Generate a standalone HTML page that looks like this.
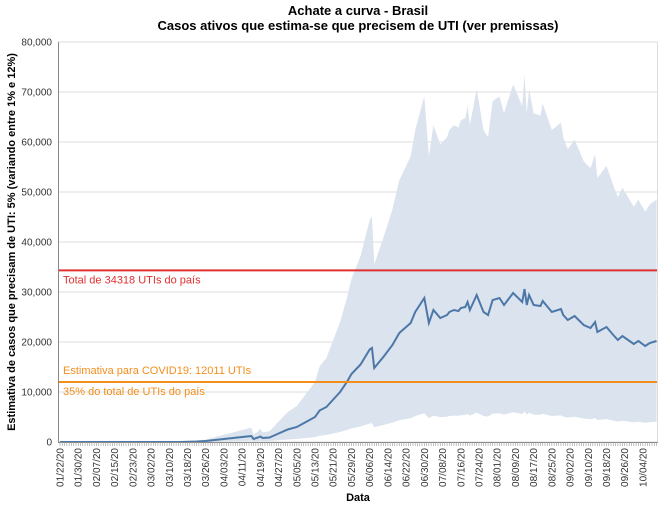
<!DOCTYPE html>
<html><head><meta charset="utf-8">
<style>
body{margin:0;background:#fff;}
svg{font-family:"Liberation Sans",sans-serif;display:block}
</style></head>
<body>
<svg id="c" width="665" height="508">
<text x="358" y="15" text-anchor="middle" font-size="13" font-weight="bold">Achate a curva - Brasil</text>
<text x="358" y="30" text-anchor="middle" font-size="13" font-weight="bold">Casos ativos que estima-se que precisem de UTI (ver premissas)</text>
<text transform="translate(15,242) rotate(-90)" text-anchor="middle" font-size="11" font-weight="bold">Estimativa de casos que precisam de UTI: 5% (variando entre 1% e 12%)</text>
<text x="358" y="501" text-anchor="middle" font-size="11" font-weight="bold">Data</text>
<g id="grid"></g><g id="marks"></g><g id="axes"></g>
</svg>
<script>
const yTicks=[0,10000,20000,30000,40000,50000,60000,70000,80000];
const days=[0,53,60,64,72,78,82,84,85,87,88,89,92,96,100,104,108,112,114,117,120,123,126,128,132,136,137,138,142,146,149,154,156,160,162,164,167,170,171,173,175,176,178,179,180,183,186,188,190,193,195,199,203,204,205,206,208,211,212,216,220,221,223,226,230,233,235,236,240,243,245,247,252,254,257,259,262];
const values=[0,0,100,200,600,900,1100,1200,600,900,1100,800,900,1700,2500,3000,4000,5000,6300,7000,8500,10000,12000,13600,15500,18500,18800,14800,17000,19400,21800,23800,26000,28800,23800,26400,24800,25400,26000,26400,26200,26800,27000,28000,26400,29400,26000,25400,28400,28800,27400,29800,28000,30600,27400,29400,27400,27200,28200,26000,26600,25400,24400,25200,23400,22800,24000,22000,23000,21400,20400,21200,19600,20200,19200,19800,20200];
const lowRatio=0.2, highRatio=2.4;
const totalUTI=34318, covidUTI=12011;
const startDate=new Date(2020,0,22);
const ns="http://www.w3.org/2000/svg";
const X0=60,PX=2.277,Y0=442,YT=42,YMAX=80000;
const xs=d=>X0+d*PX, ys=v=>Y0-(v/YMAX)*(Y0-YT);
function mk(t,a,p){const e=document.createElementNS(ns,t);for(const k in a)e.setAttribute(k,a[k]);p.appendChild(e);return e;}
const grid=document.getElementById('grid'),marks=document.getElementById('marks'),axes=document.getElementById('axes');
yTicks.forEach(v=>{
 const l=mk('line',{x1:58,x2:658,y1:ys(v),y2:ys(v),stroke:'#ddd','stroke-width':1},grid);
 
 
 const t=mk('text',{x:52,y:ys(v)+3.5,'text-anchor':'end','font-size':10,fill:'#333'},axes);
 t.textContent=v.toLocaleString('en-US');
 
 
});
let up='',lo='';
days.forEach((d,i)=>{up+=(i?'L':'M')+xs(d)+','+ys(values[i]*highRatio);});
for(let i=days.length-1;i>=0;i--){lo+='L'+xs(days[i])+','+ys(values[i]*lowRatio);}
const band=mk('path',{d:up+lo+'Z',fill:'#dbe3ee'},marks);


let ln='';days.forEach((d,i)=>{ln+=(i?'L':'M')+xs(d)+','+ys(values[i]);});
const line=mk('path',{d:ln,fill:'none',stroke:'#4c78a8','stroke-width':2},marks);


const r=mk('line',{x1:58,x2:658,y1:ys(totalUTI),y2:ys(totalUTI),stroke:'#e03030','stroke-width':2},marks);


const o=mk('line',{x1:58,x2:658,y1:ys(covidUTI),y2:ys(covidUTI),stroke:'#f28e1c','stroke-width':2},marks);


[[ys(totalUTI)+13,'#e03030','Total de 34318 UTIs do país','total-uti-label'],[ys(covidUTI)-8,'#f28e1c','Estimativa para COVID19: 12011 UTIs','covid-uti-label'],[ys(covidUTI)+13,'#f28e1c','35% do total de UTIs do país','covid-pct-label']].forEach(a=>{
 const t=mk('text',{x:63,y:a[0],'font-size':11,fill:a[1]},marks);t.textContent=a[2];
 
 
});
mk('line',{x1:58.5,x2:58.5,y1:YT,y2:Y0,stroke:'#888'},axes);
mk('line',{x1:657.5,x2:657.5,y1:YT,y2:Y0,stroke:'#ddd'},axes);
mk('line',{x1:58,x2:658,y1:Y0+0.5,y2:Y0+0.5,stroke:'#888'},axes);
for(let d=0;d<=262;d++){mk('line',{x1:xs(d),x2:xs(d),y1:Y0,y2:Y0+4,stroke:'#999','stroke-width':0.6},axes);}
for(let d=0;d<=256;d+=8){
 const dt=new Date(startDate.getTime()+d*86400000);
 const s=String(dt.getMonth()+1).padStart(2,'0')+'/'+String(dt.getDate()).padStart(2,'0')+'/20';
 const t=mk('text',{transform:`translate(${xs(d)+3.5},448) rotate(-90)`,'text-anchor':'end','font-size':10,fill:'#333'},axes);
 t.textContent=s;
 
 
}
</script>
</body></html>
